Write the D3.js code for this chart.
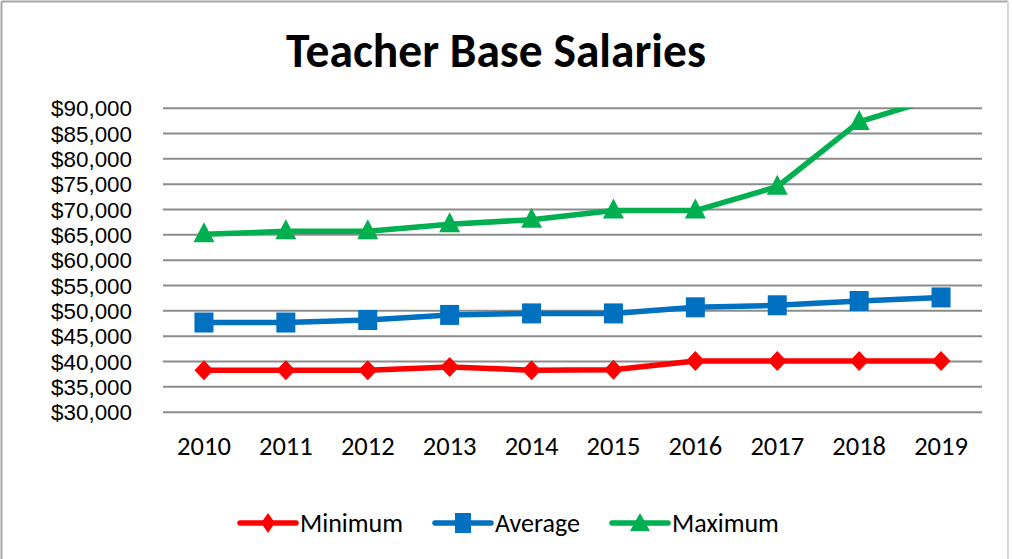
<!DOCTYPE html>
<html><head><meta charset="utf-8">
<script src="https://cdn.jsdelivr.net/npm/d3@7"></script>
<style>
html,body{margin:0;padding:0;background:#fff;}
text{font-family:Carlito,Calibri,Lato,"Open Sans",sans-serif;fill:#000;}
</style></head>
<body>
<svg id="c" width="1012" height="559"></svg>
<script>
const years = ["2010","2011","2012","2013","2014","2015","2016","2017","2018","2019"];
const minimum = [38200,38200,38200,38800,38200,38300,40000,40000,40000,40000];
const average = [47600,47600,48100,49100,49400,49400,50600,51000,51850,52550];
const maximum = [65000,65600,65600,67000,67900,69700,69700,74400,87200,92200];
const yTicks = [30000,35000,40000,45000,50000,55000,60000,65000,70000,75000,80000,85000,90000];
const seriesNames = ["Minimum","Average","Maximum"];

const svg = d3.select("#c");
const W=1012,H=559;
// outer border
svg.append("line").attr("x1",1.5).attr("y1",1.5).attr("x2",1.5).attr("y2",H).attr("stroke","#a6a6a6").attr("stroke-width",2);
svg.append("line").attr("x1",1.5).attr("y1",1.5).attr("x2",1008).attr("y2",1.5).attr("stroke","#a6a6a6").attr("stroke-width",2);
svg.append("line").attr("x1",1008).attr("y1",1.5).attr("x2",1008).attr("y2",H).attr("stroke","#d9d9d9").attr("stroke-width",2);

const L=163,R=982,T=107.7,B=411.7;
const x = d3.scaleBand().domain(years).range([L,R]);
const y = d3.scaleLinear().domain([30000,90000]).range([B,T]);

svg.append("text").attr("x",496).attr("y",67).attr("text-anchor","middle")
  .style("font-size","47.5px").style("font-weight","bold").text("Teacher Base Salaries");

// grid
const yAxis = d3.axisLeft(y).tickValues(yTicks).tickSize(-(R-L)).tickPadding(31)
  .tickFormat(d=>"$"+d3.format(",")(d));
const gy = svg.append("g").attr("transform",`translate(${L},0)`).call(yAxis);
gy.select(".domain").remove();
gy.selectAll(".tick line").attr("stroke","#8c8c8c").attr("stroke-width",2);
gy.selectAll(".tick text").style("font-family","'Liberation Sans',Arial,sans-serif")
  .style("font-size","22.4px").attr("dy","0.36em").style("fill","#000");

const xAxis = d3.axisBottom(x).tickSize(0).tickPadding(0);
const gx = svg.append("g").attr("transform",`translate(0,${B})`).call(xAxis);
gx.select(".domain").remove();
gx.selectAll(".tick text").style("font-size","26.5px").attr("dy","0").attr("y",43).style("fill","#000");

svg.append("defs").append("clipPath").attr("id","clip").append("rect")
  .attr("x",L-20).attr("y",T).attr("width",R-L+40).attr("height",B-T+20);

const series = [
  {name:"Minimum",vals:minimum,color:"#FF0000",shape:"diamond"},
  {name:"Average",vals:average,color:"#0070C0",shape:"square"},
  {name:"Maximum",vals:maximum,color:"#00B050",shape:"triangle"}
];
const cx = d=>x(d)+x.bandwidth()/2;
const line = d3.line().x((d,i)=>cx(years[i])).y(d=>y(d));
const plot = svg.append("g").attr("clip-path","url(#clip)");

function marker(g,shape,color){
  if(shape==="diamond"){
    g.append("path").attr("d","M0,-10L9.5,0L0,10L-9.5,0Z").attr("fill",color);
  } else if(shape==="square"){
    g.append("rect").attr("x",-9.5).attr("y",-10).attr("width",19).attr("height",20).attr("fill",color);
  } else {
    g.append("path").attr("d","M0,-12L10.5,8L-10.5,8Z").attr("fill",color);
  }
}
series.forEach(s=>{
  plot.append("path").datum(s.vals).attr("d",line).attr("fill","none")
    .attr("stroke",s.color).attr("stroke-width",5.5).attr("stroke-linejoin","round");
  s.vals.forEach((v,i)=>{
    if(v>90000) return;
    const g = plot.append("g").attr("transform",`translate(${cx(years[i])},${y(v)})`);
    marker(g,s.shape,s.color);
  });
});

// legend
const legX = [240,435,612];
series.forEach((s,i)=>{
  const g = svg.append("g").attr("transform",`translate(${legX[i]},523)`);
  g.append("line").attr("x1",0).attr("x2",56).attr("y1",0).attr("y2",0).attr("stroke",s.color).attr("stroke-width",5.5).attr("stroke-linecap","round");
  const m = g.append("g").attr("transform","translate(28,0)");
  if(s.shape==="diamond") m.append("path").attr("d","M0,-10L7,0L0,10L-7,0Z").attr("fill",s.color);
  else if(s.shape==="square") m.append("rect").attr("x",-8).attr("y",-10).attr("width",16).attr("height",20).attr("fill",s.color);
  else m.append("path").attr("d","M0,-10L10,8L-10,8Z").attr("fill",s.color);
  g.append("text").attr("x",60).attr("y",9).style("font-size","26px").text(s.name);
});
</script>
</body></html>
